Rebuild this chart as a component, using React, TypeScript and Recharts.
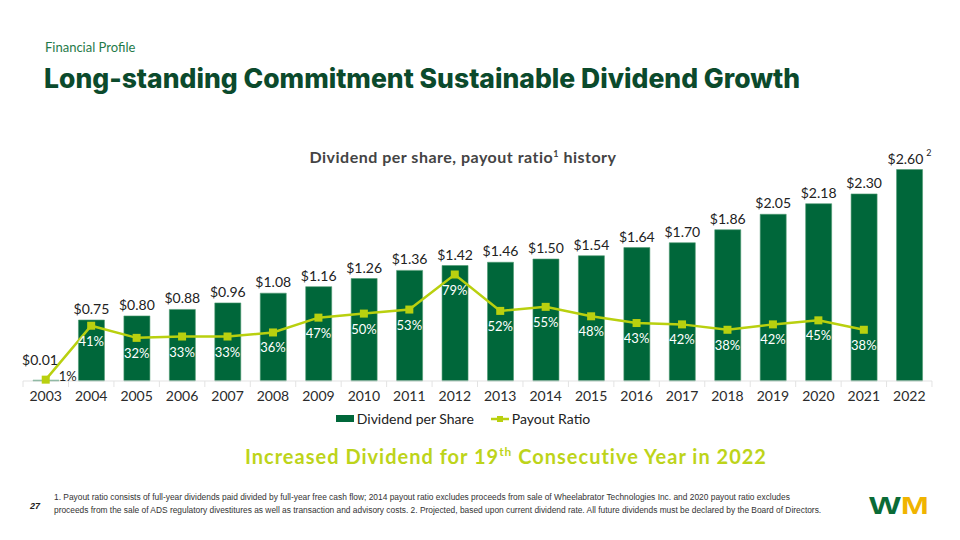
import { Bar, ComposedChart, LabelList, Line, XAxis, YAxis } from "recharts";

const years = [
  "2003", "2004", "2005", "2006", "2007", "2008", "2009", "2010", "2011", "2012",
  "2013", "2014", "2015", "2016", "2017", "2018", "2019", "2020", "2021", "2022",
];
const dividends = [
  0.01, 0.75, 0.8, 0.88, 0.96, 1.08, 1.16, 1.26, 1.36, 1.42,
  1.46, 1.5, 1.54, 1.64, 1.7, 1.86, 2.05, 2.18, 2.3, 2.6,
];
const payoutRatios: (number | null)[] = [
  1, 41, 32, 33, 33, 36, 47, 50, 53, 79,
  52, 55, 48, 43, 42, 38, 42, 45, 38, null,
];

const data = years.map((year, i) => ({
  year,
  dividend: dividends[i],
  payout: payoutRatios[i],
}));

const GREEN = "#00673a";
const LIME = "#b9d00f";
const FONT = "Lato, 'Open Sans', sans-serif";

function YearTick(props: any) {
  const { x, y, payload, index } = props;
  const half = 22.7;
  return (
    <g>
      <line x1={x - half} x2={x - half} y1={381} y2={387} stroke="#e3e3e3" />
      {index === years.length - 1 && (
        <line x1={x + half} x2={x + half} y1={381} y2={387} stroke="#e3e3e3" />
      )}
      <text x={x} y={y} dy={12} textAnchor="middle" fontSize={14} fill="#2b2b2b" fontFamily={FONT}>
        {payload.value}
      </text>
    </g>
  );
}

function DividendLabel(props: any) {
  const { x, y, width, value, index } = props;
  const cx = x + width / 2;
  // the tiny 2003 bar gets its label lifted and nudged left, clear of the 1% label
  const lift = index === 0 ? 15 : 6;
  const shift = index === 0 ? -6 : 0;
  return (
    <text x={cx + shift} y={y - lift} textAnchor="middle" fontSize={14} fill="#222" fontFamily={FONT}>
      {`$${Number(value).toFixed(2)}`}
      {index === years.length - 1 && (
        <tspan fontSize={9} dx={3} dy={-8}>2</tspan>
      )}
    </text>
  );
}

function PayoutLabel(props: any) {
  const { x, y, value, index } = props;
  if (value == null) return null;
  if (index === 0) {
    return (
      <text x={x + 22} y={y + 1} textAnchor="middle" fontSize={13} fill="#222" fontFamily={FONT}>
        {`${value}%`}
      </text>
    );
  }
  return (
    <text x={x} y={y + 20} textAnchor="middle" fontSize={13} fill="#fff" fontFamily={FONT}>
      {`${value}%`}
    </text>
  );
}

function SquareDot(props: any) {
  const { cx, cy, value } = props;
  if (value == null || cx == null || cy == null) return null;
  return <rect x={cx - 4} y={cy - 4} width={8} height={8} fill={LIME} />;
}

export default function App() {
  return (
    <div
      style={{
        position: "fixed",
        left: 0,
        top: 0,
        width: 960,
        height: 540,
        background: "#fff",
        fontFamily: FONT,
        overflow: "hidden",
      }}
    >
      <div style={{ position: "absolute", left: 45, top: 39, fontSize: 13, color: "#1f7a4a" }}>
        Financial Profile
      </div>
      <div
        style={{
          position: "absolute",
          left: 44,
          top: 62,
          fontSize: 26.5,
          fontWeight: 800,
          fontFamily: "Inter, Lato, sans-serif",
          color: "#0b4a2c",
          whiteSpace: "nowrap",
        }}
      >
        Long-standing Commitment Sustainable Dividend Growth
      </div>
      <div
        style={{
          position: "absolute",
          left: 0,
          width: 926,
          top: 147,
          textAlign: "center",
          fontSize: 16,
          fontWeight: 700,
          letterSpacing: 0.5,
          color: "#444",
        }}
      >
        Dividend per share, payout ratio<sup style={{ fontSize: 9 }}>1</sup> history
      </div>

      <div style={{ position: "absolute", left: 0, top: 0 }}>
        <ComposedChart
          width={960}
          height={540}
          data={data}
          margin={{ top: 137, right: 28, bottom: 129, left: 23 }}
        >
          <XAxis
            dataKey="year"
            height={30}
            axisLine={{ stroke: "#e3e3e3" }}
            tickLine={false}
            tick={<YearTick />}
            interval={0}
          />
          <YAxis yAxisId="left" domain={[0, 3]} hide />
          <YAxis yAxisId="right" orientation="right" domain={[0, 181]} hide />
          <Bar
            yAxisId="left"
            dataKey="dividend"
            name="Dividend per Share"
            fill={GREEN}
            stroke="#4f9a72"
            strokeWidth={0.6}
            barSize={26}
            isAnimationActive={false}
          >
            <LabelList dataKey="dividend" content={<DividendLabel />} />
          </Bar>
          <Line
            yAxisId="right"
            dataKey="payout"
            name="Payout Ratio"
            stroke={LIME}
            strokeWidth={2.5}
            dot={<SquareDot />}
            activeDot={false}
            isAnimationActive={false}
          >
            <LabelList dataKey="payout" content={<PayoutLabel />} />
          </Line>
        </ComposedChart>
      </div>

      <div
        style={{
          position: "absolute",
          top: 410,
          left: 0,
          width: 926,
          display: "flex",
          justifyContent: "center",
          alignItems: "center",
          fontSize: 14,
          color: "#222",
        }}
      >
        <span style={{ display: "inline-block", width: 18, height: 7, background: GREEN, marginRight: 3 }} />
        <span>Dividend per Share</span>
        <svg width={18} height={10} style={{ marginLeft: 17, marginRight: 3 }}>
          <line x1={0} x2={18} y1={5} y2={5} stroke={LIME} strokeWidth={2.5} />
          <rect x={6} y={2} width={6} height={6} fill={LIME} />
        </svg>
        <span>Payout Ratio</span>
      </div>

      <div
        style={{
          position: "absolute",
          top: 444,
          left: 0,
          width: 1012,
          textAlign: "center",
          fontSize: 20,
          fontWeight: 700,
          color: "#bdd41a",
          letterSpacing: 1,
        }}
      >
        Increased Dividend for 19<sup style={{ fontSize: 12 }}>th</sup> Consecutive Year in 2022
      </div>

      <div
        style={{
          position: "absolute",
          left: 30,
          top: 501,
          fontSize: 9,
          fontWeight: 700,
          fontStyle: "italic",
          fontFamily: "'Liberation Sans', Arial, sans-serif",
          color: "#222",
        }}
      >
        27
      </div>
      <div
        style={{
          position: "absolute",
          left: 54,
          top: 491,
          fontSize: 8.4,
          lineHeight: "13px",
          fontFamily: "'Liberation Sans', Arial, sans-serif",
          color: "#333",
          whiteSpace: "nowrap",
        }}
      >
        1. Payout ratio consists of full-year dividends paid divided by full-year free cash flow; 2014 payout ratio excludes proceeds from sale of Wheelabrator Technologies Inc. and 2020 payout ratio excludes
        <br />
        proceeds from the sale of ADS regulatory divestitures as well as transaction and advisory costs. 2. Projected, based upon current dividend rate. All future dividends must be declared by the Board of Directors.
      </div>

      <svg width={80} height={32} style={{ position: "absolute", left: 866, top: 490 }}>
        <text
          x={3}
          y={24}
          fontSize={24}
          fontWeight={900}
          fontFamily="'Liberation Sans', Arial, sans-serif"
          textLength={60}
          lengthAdjust="spacingAndGlyphs"
        >
          <tspan fill="#0a6b36">W</tspan>
          <tspan fill="#f0b400">M</tspan>
        </text>
      </svg>
    </div>
  );
}
